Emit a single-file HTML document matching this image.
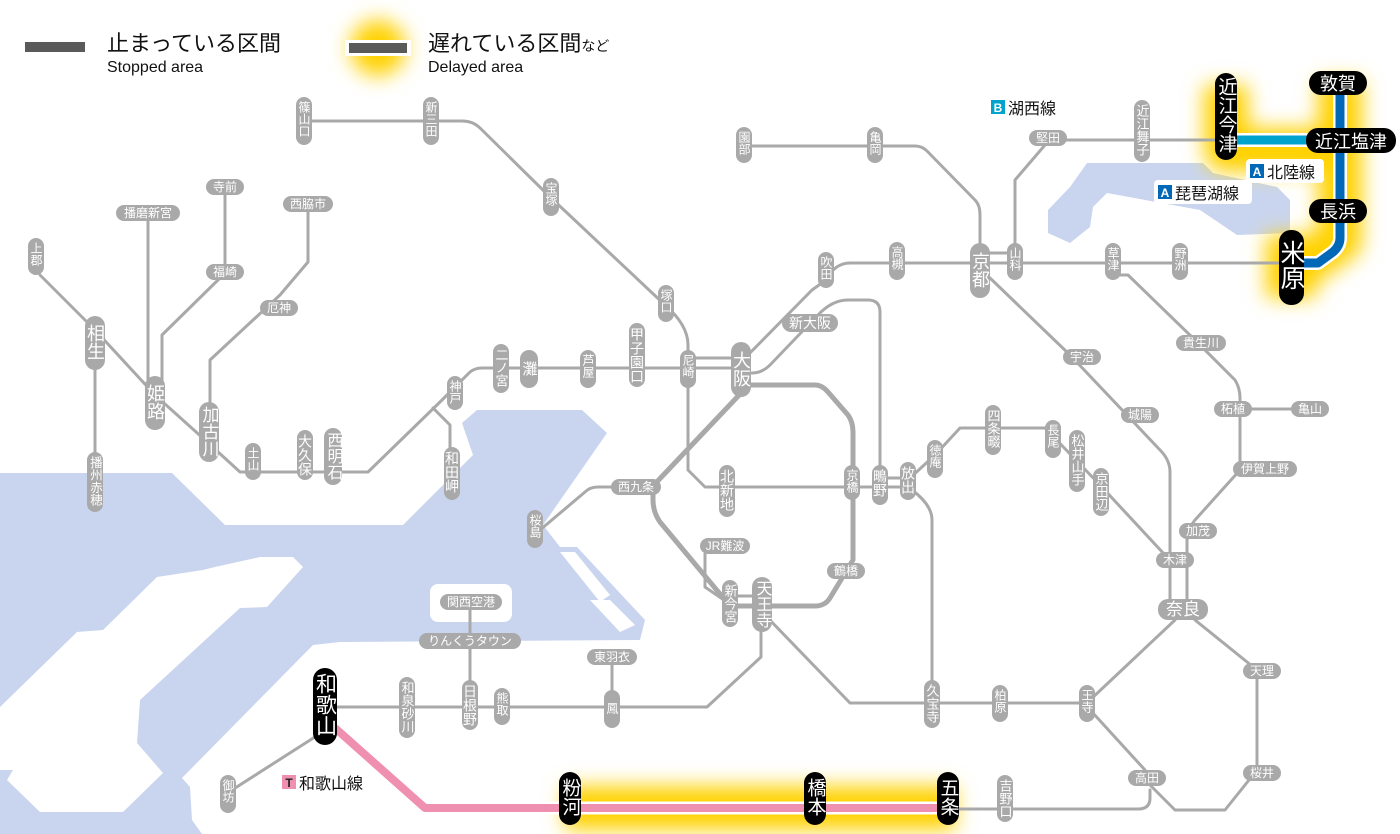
<!DOCTYPE html>
<html><head><meta charset="utf-8"><style>
html,body{margin:0;padding:0;background:#fff}
svg{display:block}
.ln{fill:none;stroke:#a9a9a9;stroke-width:3;stroke-linejoin:round;stroke-linecap:round}
.lp{fill:none;stroke:#a9a9a9;stroke-width:5;stroke-linejoin:round}
.pl{fill:#a9a9a9}
.bk{fill:#000}
.t{fill:#fff;font-family:"Liberation Sans","Noto Sans CJK JP",sans-serif}
.v{writing-mode:vertical-rl;text-orientation:upright}
.k{fill:#111;font-family:"Liberation Sans","Noto Sans CJK JP",sans-serif}
</style></head><body>
<svg width="1400" height="834" viewBox="0 0 1400 834" xmlns="http://www.w3.org/2000/svg">
<defs>
<filter id="gl" x="-30%" y="-30%" width="160%" height="160%"><feGaussianBlur stdDeviation="10"/></filter>
</defs>
<!-- water -->
<polygon fill="#c9d5ef" points="0,473 172,473 225,525 403,525 473,455 462,423 477,410 582,410 607,433 543,525 560,547 577,547 645,620 640,640 340,642 313,645 182,778 190,787 192,820 202,834 0,834"/>
<polygon fill="#fff" points="0,707 77,632 103,630 157,577 203,570 215,567 260,557 293,557 303,567 267,607 240,608 140,700 137,743 163,773 123,812 40,812 7,780 13,770 0,770"/>
<rect x="430" y="584" width="82" height="38" rx="8" fill="#fff"/>
<polygon fill="#fff" points="560,552 575,552 610,595 600,602"/>
<polygon fill="#fff" points="590,600 610,600 635,625 620,632"/>
<polygon fill="#c9d5ef" points="1070,187 1087,163 1203,163 1213,173 1277,187 1290,200 1290,233 1237,235 1200,210 1107,193 1093,207 1090,227 1070,243 1048,233 1048,210"/>

<!-- glow -->
<g filter="url(#gl)" stroke="#ffd200" fill="none" stroke-linejoin="round">
<path d="M1226,85 V150 H1345 M1340,80 V240 L1300,268" stroke-width="44"/>
<path d="M1291,235 V298" stroke-width="50"/>
<path d="M565,808 H955" stroke-width="44"/>
<circle cx="378" cy="48" r="28" fill="#ffd200" stroke="none"/>
</g>

<!-- legend -->
<rect x="25" y="42" width="60" height="10" fill="#5a5a5a"/>
<text class="k" x="107" y="51" font-size="22">止まっている区間</text>
<text class="k" x="107" y="72" font-size="16">Stopped area</text>
<rect x="345" y="40" width="66" height="16" fill="#fff"/>
<rect x="349" y="43" width="58" height="10" fill="#5a5a5a"/>
<text class="k" x="428" y="51" font-size="22">遅れている区間<tspan font-size="14">など</tspan></text>
<text class="k" x="428" y="72" font-size="16">Delayed area</text>

<!-- lines -->
<g class="ln">
<path d="M304,121 H462 Q473,121 480,128 L548,195 L665,305 Q688,325 688,345 V470 L705,487 H908"/>
<path d="M880,478 H908"/>
<path d="M40,275 L95,330 L155,395 L205,440 L240,472 H368 L440,402 L470,372 Q475,368 482,368 H741"/>
<path d="M433,408 L450,425 V450"/>
<path d="M688,358 H741"/>
<path d="M95,370 V455"/>
<path d="M148,220 V395"/>
<path d="M225,195 V265 M220,278 L162,335 V385"/>
<path d="M308,212 V262 L280,295 L210,360 V405"/>
<path d="M745,358 L812,290 L826,280 Q835,263 850,263 H1280"/>
<path d="M752,373 Q762,373 770,365 L818,315 Q832,300 848,300 H868 Q880,300 880,312 V470"/>
<path d="M744,146 H915 Q922,146 927,151 L975,200 Q980,205 980,215 V245"/>
<path d="M990,253 H1015"/>
<path d="M1015,245 V180 L1045,145 M1048,140 H1215"/>
<path d="M990,278 L1070,355 L1160,450 Q1170,460 1170,472 V600"/>
<path d="M1113,275 H1128 L1195,340 L1235,380 Q1240,388 1240,398 V470 L1195,520 Q1187,530 1187,542 V600"/>
<path d="M1233,409 H1310"/>
<path d="M910,478 L935,455 L960,428 H1045 L1100,485 L1165,555"/>
<path d="M912,490 Q932,505 932,520 V690"/>
<path d="M1175,620 L1090,700"/>
<path d="M1195,620 L1257,670 V770 L1225,810 H1175 L1150,785"/>
<path d="M1092,712 L1145,770"/>
<path d="M1150,790 V798 Q1150,809 1138,809 H955"/>
<path d="M765,615 L850,703 H1087"/>
<path d="M761,630 V657 L707,707 H330"/>
<path d="M612,665 V700"/>
<path d="M470,610 V700"/>
<path d="M318,735 L232,790"/>
<path d="M705,554 V587 L724,600"/>
<path d="M730,596 H762"/>
<path d="M620,487 H598 Q590,487 585,492 L540,530"/>
</g>
<g class="lp">
<path d="M748,385 H815 Q822,385 828,392 L848,415 Q853,422 853,432 V560 L830,598 Q825,606 815,606 H730 L660,522 Q653,512 653,500 V487"/>
<path d="M742,392 L652,487"/>
</g>
<!-- colored lines -->
<path d="M1226,140 H1325" stroke="#fff" stroke-width="14" fill="none"/>
<path d="M1226,140 H1325" stroke="#00a3cc" stroke-width="9" fill="none"/>
<path d="M1340,85 V238 Q1340,246 1333,252 L1318,263 H1291" stroke="#fff" stroke-width="14" fill="none" stroke-linejoin="round"/>
<path d="M1340,85 V238 Q1340,246 1333,252 L1318,263 H1291" stroke="#0068b7" stroke-width="9" fill="none" stroke-linejoin="round"/>
<path d="M335,728 L425,808 H948" stroke="#fff" stroke-width="13" fill="none" stroke-linejoin="round"/>
<path d="M335,728 L425,808 H948" stroke="#f090b0" stroke-width="8" fill="none" stroke-linejoin="round"/>

<!-- vertical small stations -->
<g font-size="12">
<rect class="pl" x="296" y="97" width="16" height="48" rx="8"/><text class="t v" x="304" y="101">篠山口</text>
<rect class="pl" x="423" y="97" width="16" height="48" rx="8"/><text class="t v" x="431" y="101">新三田</text>
<rect class="pl" x="28" y="238" width="16" height="37" rx="8"/><text class="t v" x="36" y="242">上郡</text>
<rect class="pl" x="87" y="452" width="16" height="60" rx="8"/><text class="t v" x="95" y="456" font-size="12.5">播州赤穂</text>
<rect class="pl" x="245" y="443" width="16" height="37" rx="8"/><text class="t v" x="253" y="447">土山</text>
<rect class="pl" x="297" y="430" width="16" height="50" rx="8"/><text class="t v" x="305" y="434" font-size="14">大久保</text>
<rect class="pl" x="324" y="428" width="18" height="57" rx="9"/><text class="t v" x="333" y="432" font-size="16">西明石</text>
<rect class="pl" x="447" y="376" width="16" height="34" rx="8"/><text class="t v" x="455" y="380">神戸</text>
<rect class="pl" x="444" y="447" width="16" height="53" rx="8"/><text class="t v" x="452" y="451" font-size="14">和田岬</text>
<rect class="pl" x="543" y="178" width="16" height="38" rx="8"/><text class="t v" x="551" y="182">宝塚</text>
<rect class="pl" x="736" y="127" width="16" height="36" rx="8"/><text class="t v" x="744" y="131">園部</text>
<rect class="pl" x="867" y="127" width="16" height="36" rx="8"/><text class="t v" x="875" y="131">亀岡</text>
<rect class="pl" x="658" y="285" width="16" height="37" rx="8"/><text class="t v" x="666" y="289">塚口</text>
<rect class="pl" x="818" y="252" width="16" height="36" rx="8"/><text class="t v" x="826" y="256">吹田</text>
<rect class="pl" x="889" y="242" width="16" height="38" rx="8"/><text class="t v" x="897" y="246">高槻</text>
<rect class="pl" x="493" y="344" width="16" height="49" rx="8"/><text class="t v" x="501" y="348" font-size="13">二ノ宮</text>
<rect class="pl" x="520" y="350" width="18" height="38" rx="9"/><text class="t v" x="529" y="361" font-size="15">灘</text>
<rect class="pl" x="580" y="350" width="16" height="38" rx="8"/><text class="t v" x="588" y="354">芦屋</text>
<rect class="pl" x="629" y="323" width="16" height="64" rx="8"/><text class="t v" x="637" y="327" font-size="14">甲子園口</text>
<rect class="pl" x="680" y="350" width="16" height="38" rx="8"/><text class="t v" x="688" y="354">尼崎</text>
<rect class="pl" x="719" y="465" width="16" height="52" rx="8"/><text class="t v" x="727" y="469" font-size="14">北新地</text>
<rect class="pl" x="844" y="465" width="16" height="35" rx="8"/><text class="t v" x="852" y="469">京橋</text>
<rect class="pl" x="872" y="465" width="16" height="40" rx="8"/><text class="t v" x="880" y="469" font-size="14">鴫野</text>
<rect class="pl" x="900" y="462" width="16" height="38" rx="8"/><text class="t v" x="908" y="466" font-size="14">放出</text>
<rect class="pl" x="927" y="440" width="16" height="38" rx="8"/><text class="t v" x="935" y="444">徳庵</text>
<rect class="pl" x="985" y="405" width="16" height="50" rx="8"/><text class="t v" x="993" y="409" font-size="13">四条畷</text>
<rect class="pl" x="1045" y="420" width="16" height="38" rx="8"/><text class="t v" x="1053" y="424">長尾</text>
<rect class="pl" x="1069" y="430" width="16" height="62" rx="8"/><text class="t v" x="1077" y="434" font-size="13">松井山手</text>
<rect class="pl" x="1093" y="468" width="16" height="48" rx="8"/><text class="t v" x="1101" y="472" font-size="13">京田辺</text>
<rect class="pl" x="527" y="510" width="16" height="38" rx="8"/><text class="t v" x="535" y="514">桜島</text>
<rect class="pl" x="1134" y="100" width="16" height="62" rx="8"/><text class="t v" x="1142" y="104" font-size="13">近江舞子</text>
<rect class="pl" x="1007" y="243" width="16" height="37" rx="8"/><text class="t v" x="1015" y="247">山科</text>
<rect class="pl" x="1105" y="243" width="16" height="37" rx="8"/><text class="t v" x="1113" y="247">草津</text>
<rect class="pl" x="1172" y="243" width="16" height="37" rx="8"/><text class="t v" x="1180" y="247">野洲</text>
<rect class="pl" x="722" y="580" width="16" height="47" rx="8"/><text class="t v" x="730" y="584" font-size="13">新今宮</text>
<rect class="pl" x="924" y="680" width="16" height="48" rx="8"/><text class="t v" x="932" y="684" font-size="13">久宝寺</text>
<rect class="pl" x="992" y="685" width="16" height="37" rx="8"/><text class="t v" x="1000" y="689">柏原</text>
<rect class="pl" x="1079" y="685" width="16" height="37" rx="8"/><text class="t v" x="1087" y="689">王寺</text>
<rect class="pl" x="997" y="775" width="16" height="47" rx="8"/><text class="t v" x="1005" y="779" font-size="13">吉野口</text>
<rect class="pl" x="399" y="677" width="16" height="61" rx="8"/><text class="t v" x="407" y="681" font-size="13">和泉砂川</text>
<rect class="pl" x="462" y="680" width="16" height="50" rx="8"/><text class="t v" x="470" y="684" font-size="14">日根野</text>
<rect class="pl" x="494" y="688" width="16" height="37" rx="8"/><text class="t v" x="502" y="692">熊取</text>
<rect class="pl" x="604" y="690" width="16" height="38" rx="8"/><text class="t v" x="612" y="702">鳳</text>
<rect class="pl" x="220" y="775" width="16" height="38" rx="8"/><text class="t v" x="228" y="779">御坊</text>
</g>
<!-- big vertical grey -->
<g font-size="18">
<rect class="pl" x="85" y="316" width="20" height="54" rx="10"/><text class="t v" x="95" y="324">相生</text>
<rect class="pl" x="145" y="376" width="20" height="54" rx="10"/><text class="t v" x="155" y="384">姫路</text>
<rect class="pl" x="199" y="402" width="20" height="60" rx="10"/><text class="t v" x="209" y="406" font-size="17">加古川</text>
<rect class="pl" x="970" y="243" width="20" height="55" rx="10"/><text class="t v" x="980" y="252">京都</text>
<rect class="pl" x="731" y="342" width="20" height="55" rx="10"/><text class="t v" x="741" y="351">大阪</text>
<rect class="pl" x="752" y="577" width="20" height="55" rx="10"/><text class="t v" x="762" y="580" font-size="16">天王寺</text>
</g>
<!-- horizontal grey -->
<g font-size="12" text-anchor="middle">
<rect class="pl" x="206" y="179" width="38" height="16" rx="8"/><text class="t" x="225" y="191">寺前</text>
<rect class="pl" x="116" y="205" width="64" height="16" rx="8"/><text class="t" x="148" y="217">播磨新宮</text>
<rect class="pl" x="283" y="196" width="50" height="16" rx="8"/><text class="t" x="308" y="208">西脇市</text>
<rect class="pl" x="206" y="264" width="38" height="16" rx="8"/><text class="t" x="225" y="276">福崎</text>
<rect class="pl" x="260" y="300" width="38" height="16" rx="8"/><text class="t" x="279" y="312">厄神</text>
<rect class="pl" x="611" y="479" width="50" height="16" rx="8"/><text class="t" x="636" y="491">西九条</text>
<rect class="pl" x="1029" y="130" width="38" height="16" rx="8"/><text class="t" x="1048" y="142">堅田</text>
<rect class="pl" x="1063" y="349" width="38" height="16" rx="8"/><text class="t" x="1082" y="361">宇治</text>
<rect class="pl" x="1176" y="335" width="50" height="16" rx="8"/><text class="t" x="1201" y="347">貴生川</text>
<rect class="pl" x="1121" y="407" width="38" height="16" rx="8"/><text class="t" x="1140" y="419">城陽</text>
<rect class="pl" x="1214" y="401" width="38" height="16" rx="8"/><text class="t" x="1233" y="413">柘植</text>
<rect class="pl" x="1291" y="401" width="38" height="16" rx="8"/><text class="t" x="1310" y="413">亀山</text>
<rect class="pl" x="1233" y="461" width="64" height="16" rx="8"/><text class="t" x="1265" y="473">伊賀上野</text>
<rect class="pl" x="1179" y="523" width="38" height="16" rx="8"/><text class="t" x="1198" y="535">加茂</text>
<rect class="pl" x="1156" y="552" width="38" height="16" rx="8"/><text class="t" x="1175" y="564">木津</text>
<rect class="pl" x="1243" y="663" width="38" height="16" rx="8"/><text class="t" x="1262" y="675">天理</text>
<rect class="pl" x="1243" y="765" width="38" height="16" rx="8"/><text class="t" x="1262" y="777">桜井</text>
<rect class="pl" x="1128" y="770" width="38" height="16" rx="8"/><text class="t" x="1147" y="782">高田</text>
<rect class="pl" x="827" y="563" width="38" height="16" rx="8"/><text class="t" x="846" y="575">鶴橋</text>
<rect class="pl" x="700" y="538" width="50" height="16" rx="8"/><text class="t" x="725" y="550">JR難波</text>
<rect class="pl" x="587" y="649" width="50" height="16" rx="8"/><text class="t" x="612" y="661">東羽衣</text>
<rect class="pl" x="419" y="633" width="102" height="16" rx="8"/><text class="t" x="470" y="645">りんくうタウン</text>
<rect class="pl" x="440" y="594" width="62" height="16" rx="8"/><text class="t" x="471" y="606">関西空港</text>
<rect class="pl" x="782" y="314" width="56" height="18" rx="9"/><text class="t" x="810" y="328" font-size="14">新大阪</text>
<rect class="pl" x="1158" y="599" width="50" height="21" rx="10"/><text class="t" x="1183" y="615" font-size="17">奈良</text>
</g>
<!-- black stations -->
<g>
<rect class="bk" x="1215" y="73" width="22" height="87" rx="11"/><text class="t v" x="1226" y="77" font-size="19">近江今津</text>
<rect class="bk" x="1279" y="230" width="25" height="75" rx="12"/><text class="t v" x="1291" y="240" font-size="25">米原</text>
<rect class="bk" x="313" y="668" width="24" height="77" rx="12"/><text class="t v" x="325" y="673" font-size="21">和歌山</text>
<rect class="bk" x="559" y="772" width="22" height="53" rx="11"/><text class="t v" x="570" y="778" font-size="19">粉河</text>
<rect class="bk" x="804" y="772" width="22" height="53" rx="11"/><text class="t v" x="815" y="778" font-size="19">橋本</text>
<rect class="bk" x="937" y="772" width="22" height="53" rx="11"/><text class="t v" x="948" y="778" font-size="19">五条</text>
<rect class="bk" x="1309" y="71" width="58" height="24" rx="12"/><text class="t" x="1338" y="90" font-size="18" text-anchor="middle">敦賀</text>
<rect class="bk" x="1306" y="128" width="90" height="25" rx="12"/><text class="t" x="1351" y="148" font-size="18" text-anchor="middle">近江塩津</text>
<rect class="bk" x="1309" y="199" width="58" height="24" rx="12"/><text class="t" x="1338" y="218" font-size="18" text-anchor="middle">長浜</text>
</g>
<!-- line names -->
<g>
<rect x="986" y="95" width="80" height="24" rx="4" fill="#fff" opacity="0.9"/>
<rect x="991" y="100" width="14" height="14" fill="#00a3cc"/><text x="998" y="112" font-size="12" fill="#fff" text-anchor="middle" font-family="Liberation Sans,sans-serif" font-weight="bold">B</text>
<text class="k" x="1008" y="114" font-size="16">湖西線</text>
<rect x="1246" y="159" width="78" height="24" rx="4" fill="#fff"/>
<rect x="1250" y="164" width="14" height="14" fill="#0068b7"/><text x="1257" y="176" font-size="12" fill="#fff" text-anchor="middle" font-family="Liberation Sans,sans-serif" font-weight="bold">A</text>
<text class="k" x="1267" y="178" font-size="16">北陸線</text>
<rect x="1154" y="180" width="98" height="24" rx="4" fill="#fff"/>
<rect x="1158" y="185" width="14" height="14" fill="#0068b7"/><text x="1165" y="197" font-size="12" fill="#fff" text-anchor="middle" font-family="Liberation Sans,sans-serif" font-weight="bold">A</text>
<text class="k" x="1175" y="199" font-size="16">琵琶湖線</text>
<rect x="278" y="770" width="94" height="24" rx="4" fill="#fff"/>
<rect x="282" y="775" width="14" height="14" fill="#f090b0"/><text x="289" y="787" font-size="12" fill="#222" text-anchor="middle" font-family="Liberation Sans,sans-serif" font-weight="bold">T</text>
<text class="k" x="299" y="789" font-size="16">和歌山線</text>
</g>
</svg>
</body></html>
